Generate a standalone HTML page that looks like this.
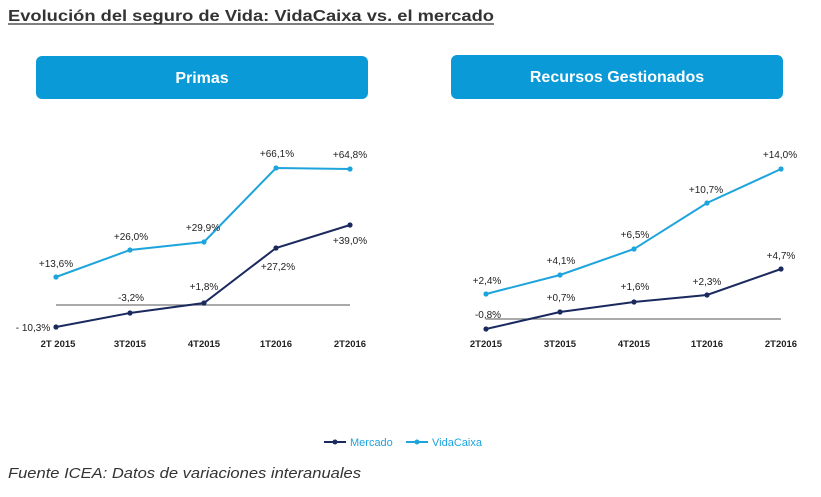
<!DOCTYPE html>
<html><head><meta charset="utf-8"><style>
html,body{margin:0;padding:0;background:#fff;width:821px;height:497px;overflow:hidden}
svg{display:block}
text{font-family:"Liberation Sans",Arial,sans-serif}
</style></head><body>
<svg width="821" height="497" viewBox="0 0 821 497" xmlns="http://www.w3.org/2000/svg">
<text x="8" y="21" font-size="15.5" font-weight="bold" fill="#333" textLength="486" lengthAdjust="spacingAndGlyphs">Evolución del seguro de Vida: VidaCaixa vs. el mercado</text>
<line x1="8" y1="24" x2="494" y2="24" stroke="#333" stroke-width="1.2"/>
<rect x="36" y="56" width="332" height="43" rx="6" fill="#0a9ad8"/>
<text x="202" y="83" font-size="16" font-weight="bold" fill="#fff" text-anchor="middle">Primas</text>
<rect x="451" y="55" width="332" height="44" rx="6" fill="#0a9ad8"/>
<text x="617" y="82" font-size="16" font-weight="bold" fill="#fff" text-anchor="middle">Recursos Gestionados</text>

<g font-size="10" fill="#222">
<!-- left chart -->
<line x1="56" y1="305" x2="350" y2="305" stroke="#777" stroke-width="1.3"/>
<polyline points="56,277 130,250 204,242 276,168 350,169" fill="none" stroke="#1ea4dc" stroke-width="2"/>
<polyline points="56,327 130,313 204,303 276,248 350,225" fill="none" stroke="#1a2a5e" stroke-width="2"/>
<g fill="#1ea4dc"><circle cx="56" cy="277" r="2.6"/><circle cx="130" cy="250" r="2.6"/><circle cx="204" cy="242" r="2.6"/><circle cx="276" cy="168" r="2.6"/><circle cx="350" cy="169" r="2.6"/></g>
<g fill="#1a2a5e"><circle cx="56" cy="327" r="2.6"/><circle cx="130" cy="313" r="2.6"/><circle cx="204" cy="303" r="2.6"/><circle cx="276" cy="248" r="2.6"/><circle cx="350" cy="225" r="2.6"/></g>
<text x="56" y="267" text-anchor="middle">+13,6%</text>
<text x="131" y="240" text-anchor="middle">+26,0%</text>
<text x="203" y="231" text-anchor="middle">+29,9%</text>
<text x="277" y="157" text-anchor="middle">+66,1%</text>
<text x="350" y="158" text-anchor="middle">+64,8%</text>
<text x="33" y="331" text-anchor="middle">- 10,3%</text>
<text x="131" y="301" text-anchor="middle">-3,2%</text>
<text x="204" y="290" text-anchor="middle">+1,8%</text>
<text x="278" y="270" text-anchor="middle">+27,2%</text>
<text x="350" y="244" text-anchor="middle">+39,0%</text>
<g font-weight="bold" font-size="9.5" text-anchor="middle">
<text x="58" y="347">2T 2015</text><text x="130" y="347">3T2015</text><text x="204" y="347">4T2015</text><text x="276" y="347">1T2016</text><text x="350" y="347">2T2016</text>
</g>
<!-- right chart -->
<line x1="486" y1="319" x2="781" y2="319" stroke="#777" stroke-width="1.3"/>
<polyline points="486,294 560,275 634,249 707,203 781,169" fill="none" stroke="#1ea4dc" stroke-width="2"/>
<polyline points="486,329 560,312 634,302 707,295 781,269" fill="none" stroke="#1a2a5e" stroke-width="2"/>
<g fill="#1ea4dc"><circle cx="486" cy="294" r="2.6"/><circle cx="560" cy="275" r="2.6"/><circle cx="634" cy="249" r="2.6"/><circle cx="707" cy="203" r="2.6"/><circle cx="781" cy="169" r="2.6"/></g>
<g fill="#1a2a5e"><circle cx="486" cy="329" r="2.6"/><circle cx="560" cy="312" r="2.6"/><circle cx="634" cy="302" r="2.6"/><circle cx="707" cy="295" r="2.6"/><circle cx="781" cy="269" r="2.6"/></g>
<text x="487" y="284" text-anchor="middle">+2,4%</text>
<text x="561" y="264" text-anchor="middle">+4,1%</text>
<text x="635" y="238" text-anchor="middle">+6,5%</text>
<text x="706" y="193" text-anchor="middle">+10,7%</text>
<text x="780" y="158" text-anchor="middle">+14,0%</text>
<text x="488" y="318" text-anchor="middle">-0,8%</text>
<text x="561" y="301" text-anchor="middle">+0,7%</text>
<text x="635" y="290" text-anchor="middle">+1,6%</text>
<text x="707" y="285" text-anchor="middle">+2,3%</text>
<text x="781" y="259" text-anchor="middle">+4,7%</text>
<g font-weight="bold" font-size="9.5" text-anchor="middle">
<text x="486" y="347">2T2015</text><text x="560" y="347">3T2015</text><text x="634" y="347">4T2015</text><text x="707" y="347">1T2016</text><text x="781" y="347">2T2016</text>
</g>
</g>
<!-- legend -->
<line x1="324" y1="442" x2="346" y2="442" stroke="#1a2a5e" stroke-width="2"/><circle cx="335" cy="442" r="2.5" fill="#1a2a5e"/>
<text x="350" y="446" font-size="11" fill="#1ea4dc">Mercado</text>
<line x1="406" y1="442" x2="428" y2="442" stroke="#1ea4dc" stroke-width="2"/><circle cx="417" cy="442" r="2.5" fill="#1ea4dc"/>
<text x="432" y="446" font-size="11" fill="#1ea4dc">VidaCaixa</text>
<text x="8" y="478" font-size="14.5" font-style="italic" fill="#333" textLength="353" lengthAdjust="spacingAndGlyphs">Fuente ICEA: Datos de variaciones interanuales</text>
</svg>
</body></html>
